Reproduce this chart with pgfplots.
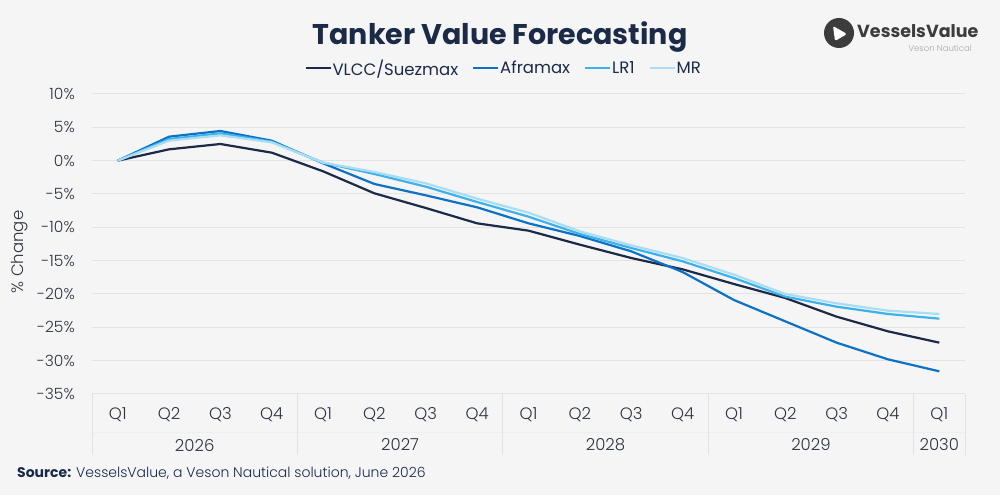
\documentclass[border=0pt]{standalone}
\usepackage{pgfplots}
\pgfplotsset{compat=1.18}
\usepackage{fontspec}
\setmainfont{Poppins}
\newfontfamily\lightfont{Poppins Light}
\definecolor{bg}{HTML}{F5F5F5}
\definecolor{navy}{HTML}{1B2A47}
\definecolor{afra}{HTML}{0B72C6}
\definecolor{lrone}{HTML}{3DB2EA}
\definecolor{mrc}{HTML}{A9DDF4}
\definecolor{txt}{HTML}{2E3440}
\definecolor{gridc}{HTML}{E3E3E3}
\definecolor{tabc}{HTML}{EFEFEF}
\definecolor{logoc}{HTML}{3C3C3C}
\definecolor{logol}{HTML}{A8A8A8}
\begin{document}
\begin{tikzpicture}[x=1pt,y=1pt]
\fill[bg] (0,0) rectangle (1000,495);
\path[use as bounding box] (0,0) rectangle (1000,495);
\node[font=\fontsize{28.5}{32}\selectfont\bfseries, text=navy] at (500,458) {Tanker Value Forecasting};
% logo
\fill[logoc] (839,462) circle (15);
\fill[white, rounded corners=1.5pt] (833,469) -- (847,461) -- (835,454) -- cycle;
\node[anchor=west, font=\fontsize{17.5}{21}\selectfont\bfseries, text=logoc, inner sep=0pt] at (857,464) {VesselsValue};
\node[anchor=east, font=\fontsize{8.5}{10}\selectfont\lightfont, text=logol, inner sep=0pt] at (972,447) {Veson Nautical};
% y label
\node[rotate=90, font=\fontsize{16.5}{19}\selectfont\lightfont, text=txt] at (20,243) {\% Change};
% source
\node[anchor=west, font=\fontsize{14}{17}\selectfont, text=navy, inner sep=0pt] at (17,22) {\textbf{Source:} {\lightfont VesselsValue, a Veson Nautical solution, June 2026}};
\begin{axis}[
  at={(92pt,101pt)}, anchor=south west, scale only axis,
  width=873pt, height=300pt,
  xmin=-0.5, xmax=16.5, ymin=-35, ymax=10,
  clip=false,
  axis line style={draw=none},
  major tick length=0pt,
  ymajorgrids, grid style={gridc, line width=1pt},
  ytick={-35,-30,...,10},
  yticklabels={-35\%,-30\%,-25\%,-20\%,-15\%,-10\%,-5\%,0\%,5\%,10\%},
  yticklabel style={anchor=east, inner sep=0pt, xshift=-17pt, font=\fontsize{15.5}{18}\selectfont\lightfont, text=txt},
  xtick={0,...,16},
  xticklabels={Q1,Q2,Q3,Q4,Q1,Q2,Q3,Q4,Q1,Q2,Q3,Q4,Q1,Q2,Q3,Q4,Q1},
  xticklabel style={anchor=center, yshift=-21pt, font=\fontsize{16.5}{19}\selectfont\lightfont, text=txt},
  legend style={at={(0.471,1)}, anchor=south, yshift=13pt, draw=none, fill=none,
    legend columns=4, font=\fontsize{16.5}{19}\selectfont, text=navy,
    /tikz/every even column/.append style={column sep=13pt},
    nodes={inner xsep=1pt}},
  legend image code/.code={\draw[#1, line width=2pt] (0pt,0pt) -- (25pt,0pt);},
  every axis plot/.append style={line width=2.2pt, line join=round, no markers},
]
\addplot[navy] coordinates {(0,0) (1,1.7) (2,2.5) (3,1.2) (4,-1.6) (5,-4.9) (6,-7.1) (7,-9.4) (8,-10.5) (9,-12.6) (10,-14.6) (11,-16.3) (12,-18.5) (13,-20.6) (14,-23.4) (15,-25.6) (16,-27.3)};
\addlegendentry{VLCC/Suezmax}
\addplot[afra] coordinates {(0,0) (1,3.6) (2,4.45) (3,3.0) (4,-0.4) (5,-3.5) (6,-5.2) (7,-7.0) (8,-9.4) (9,-11.3) (10,-13.6) (11,-16.7) (12,-20.9) (13,-24.1) (14,-27.3) (15,-29.8) (16,-31.6)};
\addlegendentry{Aframax}
\addplot[lrone] coordinates {(0,0) (1,3.25) (2,4.1) (3,2.85) (4,-0.3) (5,-2.0) (6,-3.9) (7,-6.2) (8,-8.4) (9,-11.0) (10,-13.1) (11,-15.1) (12,-17.6) (13,-20.4) (14,-21.9) (15,-23.0) (16,-23.7)};
\addlegendentry{LR1}
\addplot[mrc] coordinates {(0,0) (1,3.0) (2,3.8) (3,2.75) (4,-0.3) (5,-1.7) (6,-3.4) (7,-5.7) (8,-7.8) (9,-10.6) (10,-12.7) (11,-14.6) (12,-17.1) (13,-20.0) (14,-21.4) (15,-22.5) (16,-23.0)};
\addlegendentry{MR}
\draw[tabc, line width=0.6pt] ([yshift=-38pt]axis cs:-0.5,-35) -- ([yshift=-38pt]axis cs:16.5,-35);
\draw[gridc, line width=1pt] (axis cs:-0.5,-35) -- ([yshift=-61pt]axis cs:-0.5,-35);
\draw[gridc, line width=1pt] (axis cs:3.5,-35) -- ([yshift=-61pt]axis cs:3.5,-35);
\draw[gridc, line width=1pt] (axis cs:7.5,-35) -- ([yshift=-61pt]axis cs:7.5,-35);
\draw[gridc, line width=1pt] (axis cs:11.5,-35) -- ([yshift=-61pt]axis cs:11.5,-35);
\draw[gridc, line width=1pt] (axis cs:15.5,-35) -- ([yshift=-61pt]axis cs:15.5,-35);
\draw[gridc, line width=1pt] (axis cs:16.5,-35) -- ([yshift=-61pt]axis cs:16.5,-35);
\node[font=\fontsize{16.5}{19}\selectfont\lightfont, text=txt] at (axis cs:1.5,-35) [yshift=-51pt] {2026};
\node[font=\fontsize{16.5}{19}\selectfont\lightfont, text=txt] at (axis cs:5.5,-35) [yshift=-51pt] {2027};
\node[font=\fontsize{16.5}{19}\selectfont\lightfont, text=txt] at (axis cs:9.5,-35) [yshift=-51pt] {2028};
\node[font=\fontsize{16.5}{19}\selectfont\lightfont, text=txt] at (axis cs:13.5,-35) [yshift=-51pt] {2029};
\node[font=\fontsize{16.5}{19}\selectfont\lightfont, text=txt] at (axis cs:16,-35) [yshift=-51pt] {2030};
\end{axis}
\end{tikzpicture}
\end{document}
